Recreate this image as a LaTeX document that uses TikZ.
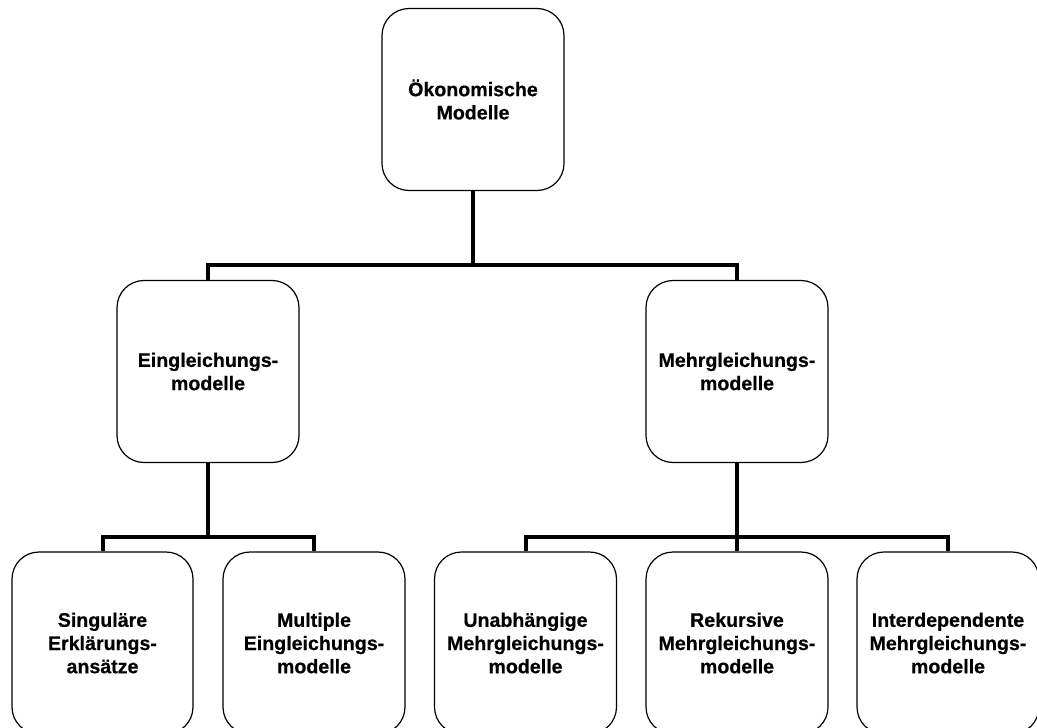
\documentclass[tikz,border=0pt]{standalone}
\usepackage{fontspec}
\setmainfont{Liberation Sans}[BoldFeatures={FakeBold=0.5}]
\begin{document}
\begin{tikzpicture}[x=1pt,y=-1pt,
  box/.style={draw=black, line width=1.2pt, rounded corners=27pt, minimum width=182pt, minimum height=182pt, inner sep=0pt, align=center, font=\fontsize{19.6}{23.2}\selectfont\bfseries},
  conn/.style={line width=4pt, line join=miter}]
\clip (0,0) rectangle (1037,728);
\fill[white] (0,0) rectangle (1037,728);
\node[box] (top) at (473,99.5) {Ökonomische\\Modelle};
\node[box] (ein) at (208,371.5) {Eingleichungs-\\modelle};
\node[box] (mehr) at (737,371.5) {Mehrgleichungs-\\modelle};
\node[box, minimum width=181pt] (sing) at (102.5,643) {Singuläre\\Erklärungs-\\ansätze};
\node[box] (mult) at (314,643) {Multiple\\Eingleichungs-\\modelle};
\node[box] (unab) at (525.5,643) {Unabhängige\\Mehrgleichungs-\\modelle};
\node[box] (rek) at (737,643) {Rekursive\\Mehrgleichungs-\\modelle};
\node[box] (inter) at (948,643) {Interdependente\\Mehrgleichungs-\\modelle};
\coordinate (j1) at (473,265);
\coordinate (j2) at (208,537);
\coordinate (j3) at (737,537);
\draw[conn] (top.south) -- (j1);
\draw[conn] (j1) -| (ein.north);
\draw[conn] (j1) -| (mehr.north);
\draw[conn] (ein.south) -- (j2);
\draw[conn] (j2) -| (sing.north);
\draw[conn] (j2) -| (mult.north);
\draw[conn] (mehr.south) -- (j3);
\draw[conn] (j3) -| (unab.north);
\draw[conn] (j3) -| (inter.north);
\draw[conn] (j3) -- (rek.north);
\end{tikzpicture}
\end{document}
